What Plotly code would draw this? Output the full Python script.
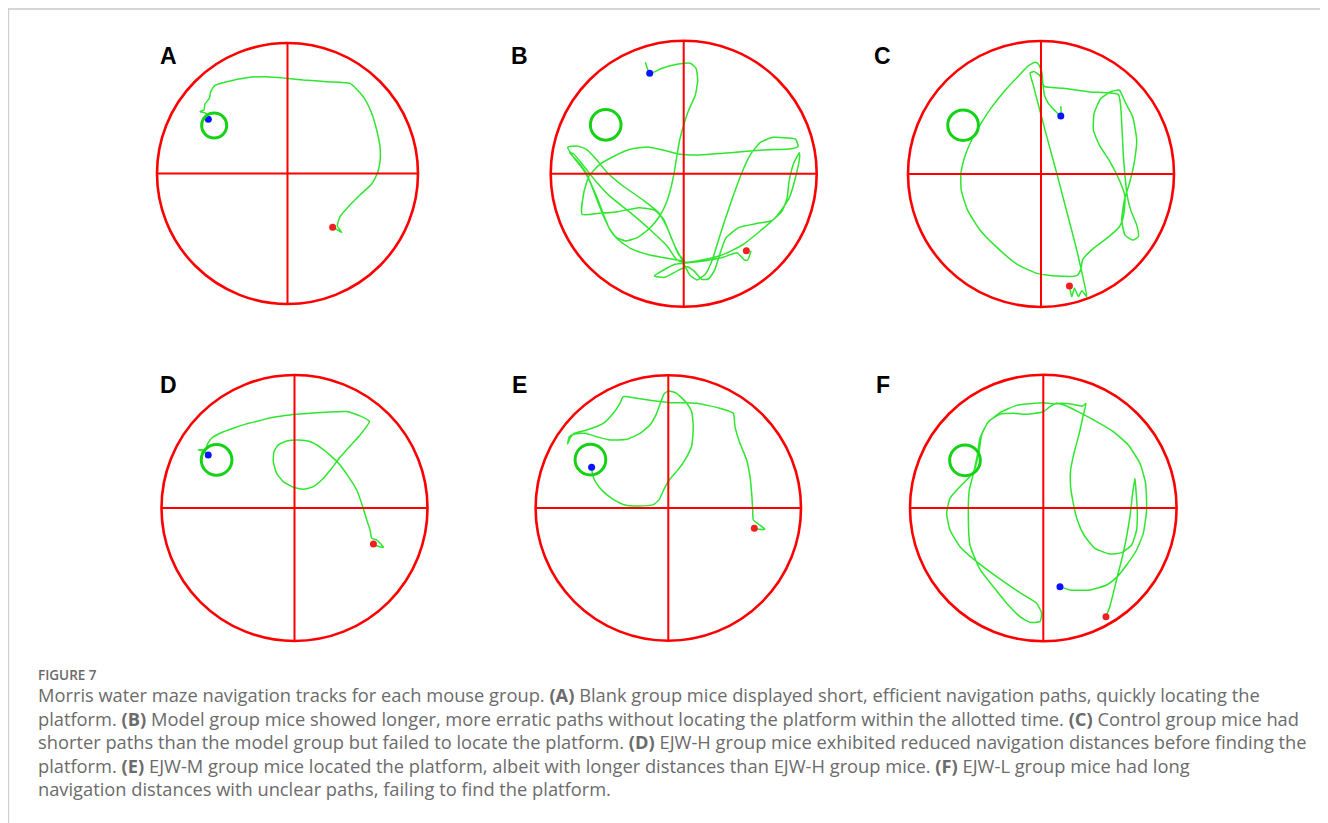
import plotly.graph_objects as go

# ---------------- data (tracking-camera coordinates per video, y downward) ----------------
panel_labels = ["A", "B", "C", "D", "E", "F"]

pool_cx = [442.5, 460.0, 452.5, 463.5, 445.0, 490.0]
pool_cy = [430.5, 431.4, 431.5, 414.0, 414.0, 414.0]
pool_r = [391.5, 399.0, 399.5, 398.5, 398.0, 400.0]

platform_x = [222.5, 226.0, 218.5, 230.0, 211.5, 255.0]
platform_y = [286.5, 284.5, 285.0, 270.0, 269.0, 271.0]
platform_r = [37.5, 46.0, 46.0, 46.0, 46.0, 46.0]

blue_x = [205, 358, 512, 205, 215, 540]
blue_y = [268, 130, 257, 255, 292, 650]
red_x = [578, 648, 538, 700, 703, 678]
red_y = [592, 662, 768, 522, 475, 740]

track_a_x = [205, 198, 180, 192, 195, 208, 212, 225, 260, 320, 380, 440, 490, 560, 630, 650, 675, 695, 710, 720, 720, 712, 695, 660, 625, 600, 592, 605, 580]
track_a_y = [268, 250, 245, 240, 222, 205, 185, 166, 155, 143, 140, 145, 150, 155, 160, 178, 208, 250, 300, 350, 395, 430, 462, 495, 530, 560, 588, 607, 592]

track_b_x = [345, 358, 395, 440, 480, 497, 502, 495, 475, 460, 448, 440, 432, 422, 408, 388, 358, 322, 287, 258, 238, 218, 198, 180, 158, 128, 112, 140, 168, 195, 228, 278, 338, 385, 410, 432, 455, 478, 500, 525, 545, 562, 582, 607, 632, 660, 690, 728, 772, 796, 803, 782, 700, 600, 500, 445, 398, 350, 300, 252, 205, 175, 160, 155, 205, 262, 325, 372, 400, 422, 444, 462, 420, 355, 300, 262, 238, 222, 205, 185, 165, 140, 118, 130, 160, 195, 240, 300, 360, 410, 440, 462, 515, 580, 636, 686, 736, 776, 798, 808, 807, 790, 776, 770, 754, 724, 682, 626, 586, 566, 552, 534, 514, 490, 470, 442, 402, 372, 400, 434, 474, 526, 578, 620, 642, 652, 662, 648]
track_b_y = [97, 130, 115, 103, 100, 115, 150, 195, 240, 285, 330, 375, 425, 472, 518, 558, 595, 622, 633, 622, 597, 555, 505, 458, 418, 380, 352, 348, 358, 385, 425, 468, 510, 548, 592, 645, 690, 735, 750, 732, 692, 638, 575, 502, 434, 374, 337, 322, 324, 328, 350, 356, 360, 368, 375, 372, 360, 351, 358, 378, 406, 440, 490, 553, 550, 545, 533, 540, 568, 622, 672, 692, 686, 674, 655, 628, 598, 560, 515, 468, 425, 392, 368, 372, 408, 452, 500, 548, 600, 648, 690, 697, 690, 673, 645, 606, 562, 505, 432, 378, 368, 400, 455, 505, 545, 572, 580, 592, 625, 680, 722, 747, 748, 722, 710, 722, 742, 738, 720, 703, 698, 692, 682, 668, 690, 690, 662]

track_c_x = [512, 512, 495, 475, 463, 458, 455, 445, 435, 415, 385, 345, 305, 272, 245, 224, 212, 213, 232, 268, 320, 380, 440, 500, 560, 572, 578, 610, 650, 688, 700, 705, 690, 660, 628, 610, 612, 632, 665, 688, 705, 728, 740, 732, 718, 703, 695, 705, 728, 745, 740, 722, 712, 706, 700, 696, 692, 685, 600, 520, 462, 455, 448, 432, 420, 428, 445, 470, 500, 530, 560, 578, 590, 575, 565, 553, 545, 538]
track_c_y = [228, 257, 242, 220, 195, 160, 125, 102, 96, 106, 137, 180, 230, 280, 328, 378, 430, 480, 540, 598, 652, 702, 730, 738, 737, 718, 688, 655, 625, 590, 560, 500, 455, 395, 345, 300, 250, 205, 183, 180, 215, 260, 330, 400, 460, 510, 570, 615, 630, 620, 585, 540, 500, 450, 380, 300, 230, 193, 185, 174, 168, 150, 135, 124, 128, 160, 225, 320, 430, 545, 660, 740, 800, 782, 800, 775, 800, 768]

track_d_x = [205, 195, 175, 198, 203, 215, 240, 280, 320, 360, 400, 450, 500, 560, 620, 660, 688, 660, 630, 600, 575, 550, 520, 490, 460, 430, 410, 400, 402, 415, 440, 475, 510, 545, 575, 600, 625, 650, 668, 680, 690, 695, 710, 730, 712, 700]
track_d_y = [255, 245, 240, 238, 222, 205, 190, 175, 162, 152, 142, 135, 131, 127, 125, 138, 155, 195, 228, 262, 295, 325, 350, 358, 352, 335, 310, 275, 245, 225, 213, 210, 215, 235, 260, 285, 320, 360, 410, 450, 480, 505, 510, 532, 528, 522]

track_e_x = [215, 218, 228, 250, 280, 315, 355, 400, 418, 432, 448, 472, 496, 515, 520, 515, 497, 470, 445, 432, 424, 410, 390, 360, 320, 270, 230, 195, 165, 148, 143, 150, 162, 200, 250, 280, 300, 310, 350, 400, 450, 530, 600, 640, 645, 660, 680, 690, 695, 698, 700, 715, 735, 715, 703]
track_e_y = [292, 315, 338, 365, 388, 405, 408, 404, 388, 358, 330, 302, 268, 228, 170, 125, 96, 70, 63, 72, 92, 130, 165, 190, 208, 210, 200, 190, 192, 200, 222, 205, 190, 180, 160, 130, 100, 80, 85, 92, 98, 100, 115, 130, 170, 220, 270, 320, 370, 415, 450, 462, 478, 478, 475]

track_f_x = [540, 570, 630, 680, 712, 740, 770, 790, 800, 797, 780, 745, 700, 650, 600, 560, 530, 510, 490, 440, 400, 360, 325, 305, 298, 283, 265, 240, 210, 200, 210, 240, 290, 350, 420, 470, 485, 480, 450, 420, 380, 340, 300, 270, 265, 268, 278, 292, 300, 322, 360, 410, 460, 490, 520, 545, 585, 608, 618, 610, 598, 582, 572, 572, 580, 592, 612, 645, 690, 725, 755, 770, 772, 768, 765, 758, 750, 738, 725, 712, 700, 688, 678]
track_f_y = [650, 660, 660, 645, 620, 585, 540, 490, 420, 340, 280, 225, 185, 155, 128, 108, 100, 110, 125, 133, 130, 133, 155, 195, 240, 300, 325, 350, 385, 430, 480, 530, 575, 620, 668, 700, 730, 755, 757, 740, 700, 650, 598, 525, 440, 360, 320, 255, 205, 160, 128, 106, 100, 98, 102, 100, 104, 108, 100, 135, 190, 250, 300, 350, 400, 450, 495, 535, 552, 548, 525, 480, 420, 360, 325, 370, 440, 510, 570, 620, 670, 715, 740]

tracks_x = [track_a_x, track_b_x, track_c_x, track_d_x, track_e_x, track_f_x]
tracks_y = [track_a_y, track_b_y, track_c_y, track_d_y, track_e_y, track_f_y]

caption_title = "FIGURE 7"
caption_lines = [
    "Morris water maze navigation tracks for each mouse group. <b>(A)</b> Blank group mice displayed short, efficient navigation paths, quickly locating the",
    "platform. <b>(B)</b> Model group mice showed longer, more erratic paths without locating the platform within the allotted time. <b>(C)</b> Control group mice had",
    "shorter paths than the model group but failed to locate the platform. <b>(D)</b> EJW-H group mice exhibited reduced navigation distances before finding the",
    "platform. <b>(E)</b> EJW-M group mice located the platform, albeit with longer distances than EJW-H group mice. <b>(F)</b> EJW-L group mice had long",
    "navigation distances with unclear paths, failing to find the platform.",
]

# ---------------- layout (page-pixel placement; the page body adds an 8 px margin) ----------------
OFF = 8
W, H = 1320, 815
panel_pix = [(287.5, 173.5, 130.5), (683.7, 173.8, 133.0), (1041.0, 174.0, 133.0),
             (294.5, 508.0, 133.0), (668.3, 508.0, 132.7), (1043.3, 508.0, 133.3)]
label_pix = [(168.5, 56), (519, 56), (882.5, 56), (168.5, 385), (519, 385), (883.5, 385)]
PAD = 1.04


def fx(p):
    return (p - OFF) / W


def fy(p):
    return 1 - (p - OFF) / H


RED = "#ff0000"
GREEN = "#2ee62e"
PLAT = "#14d214"

fig = go.Figure()
shapes = []
annotations = []

for i in range(6):
    n = "" if i == 0 else str(i + 1)
    xa, ya = "x" + n, "y" + n
    px, py, pr = panel_pix[i]
    cx, cy, R = pool_cx[i], pool_cy[i], pool_r[i]
    fig.update_layout(**{
        ("xaxis" + n): dict(domain=[fx(px - pr * PAD), fx(px + pr * PAD)],
                            range=[cx - R * PAD, cx + R * PAD], visible=False,
                            anchor=ya, fixedrange=True),
        ("yaxis" + n): dict(domain=[fy(py + pr * PAD), fy(py - pr * PAD)],
                            range=[cy + R * PAD, cy - R * PAD], visible=False,
                            anchor=xa, fixedrange=True),
    })
    shapes.append(dict(type="circle", xref=xa, yref=ya, x0=cx - R, x1=cx + R,
                       y0=cy - R, y1=cy + R, line=dict(color=RED, width=2.6)))
    shapes.append(dict(type="line", xref=xa, yref=ya, x0=cx - R, x1=cx + R,
                       y0=cy, y1=cy, line=dict(color=RED, width=2)))
    shapes.append(dict(type="line", xref=xa, yref=ya, x0=cx, x1=cx,
                       y0=cy - R, y1=cy + R, line=dict(color=RED, width=2)))
    pxp, pyp, prp = platform_x[i], platform_y[i], platform_r[i]
    shapes.append(dict(type="circle", xref=xa, yref=ya, x0=pxp - prp, x1=pxp + prp,
                       y0=pyp - prp, y1=pyp + prp, line=dict(color=PLAT, width=3)))
    fig.add_trace(go.Scatter(x=tracks_x[i], y=tracks_y[i], mode="lines", xaxis=xa, yaxis=ya,
                             line=dict(color=GREEN, width=1.5, shape="spline", smoothing=0.5),
                             hoverinfo="skip", showlegend=False))
    fig.add_trace(go.Scatter(x=[blue_x[i]], y=[blue_y[i]], mode="markers", xaxis=xa, yaxis=ya,
                             marker=dict(color="#0a14ff", size=7), showlegend=False))
    fig.add_trace(go.Scatter(x=[red_x[i]], y=[red_y[i]], mode="markers", xaxis=xa, yaxis=ya,
                             marker=dict(color="#ee2020", size=7), showlegend=False))
    lx, ly = label_pix[i]
    annotations.append(dict(text=panel_labels[i], x=fx(lx), y=fy(ly), xref="paper", yref="paper",
                            xanchor="center", yanchor="middle", showarrow=False,
                            font=dict(family="Liberation Sans, Arial", size=23, color="#000000", weight="bold")))

# frame
shapes.append(dict(type="line", xref="paper", yref="paper", x0=0, x1=fx(1327),
                   y0=fy(9), y1=fy(9), line=dict(color="#d6d6d6", width=2)))
shapes.append(dict(type="line", xref="paper", yref="paper", x0=fx(8.6), x1=fx(8.6),
                   y0=fy(9), y1=0, line=dict(color="#cfcfcf", width=1.2)))
shapes.append(dict(type="line", xref="paper", yref="paper", x0=fx(1327), x1=fx(1327),
                   y0=fy(9), y1=0, line=dict(color="#cfcfcf", width=1.2)))

# caption
CAP_X = fx(36)
annotations.append(dict(text=caption_title, x=CAP_X, y=fy(675), xref="paper", yref="paper",
                        xanchor="left", yanchor="middle", showarrow=False,
                        font=dict(family="Open Sans", size=13.5, color="#6b6b6b", weight=600)))
line_y = [694.5, 718, 741.5, 765, 788.5]
for t, yy in zip(caption_lines, line_y):
    annotations.append(dict(text=t, x=CAP_X, y=fy(yy), xref="paper", yref="paper",
                            xanchor="left", yanchor="middle", showarrow=False,
                            font=dict(family="Open Sans", size=18.3, color="#6b6b6b")))

fig.update_layout(width=W, height=H, margin=dict(l=0, r=0, t=0, b=0),
                  paper_bgcolor="white", plot_bgcolor="rgba(0,0,0,0)",
                  shapes=shapes, annotations=annotations, showlegend=False)

fig.write_html("out.html")
